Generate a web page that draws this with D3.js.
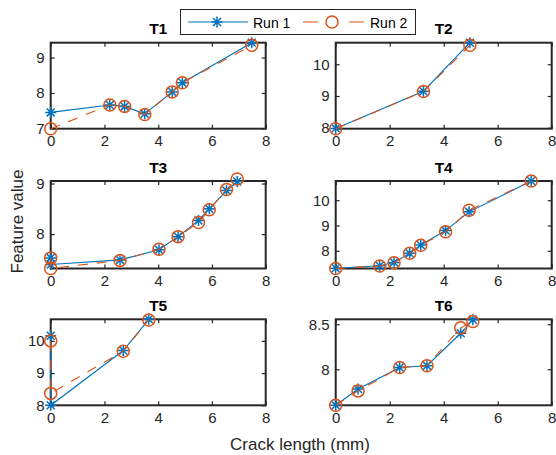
<!DOCTYPE html>
<html>
<head>
<meta charset="utf-8">
<title>Feature value vs crack length</title>
<script src="https://cdn.jsdelivr.net/npm/d3@7"></script>
<style>
    body { margin: 0; background: #fff; }
    svg { font-family: "Liberation Sans", Arial, Helvetica, sans-serif; }
    .tick text { fill: #262626; font-size: 15px; }
    .tick line { stroke: #262626; stroke-width: 1.2; }
</style>
</head>
<body>
<script>
    // panel titles and axis tick values
    var titles = ["T1", "T2", "T3", "T4", "T5", "T6"];
    var xTicks = [0, 2, 4, 6, 8];
    var yTicks = [[7, 8, 9], [8, 9, 10], [8, 9], [8, 9, 10], [8, 9, 10], [8, 8.5]];
    var yLimits = [[6.99, 9.42], [7.97, 10.68], [7.32, 9.05], [7.30, 10.76], [8.0, 10.67], [7.6, 8.555]];

    // crack length (mm) per panel, shared by both runs
    var t1Crack = [0, 2.2, 2.75, 3.5, 4.52, 4.9, 7.48];
    var t2Crack = [0, 3.25, 4.97];
    var t3Crack = [0, 0, 2.58, 4.03, 4.74, 5.5, 5.9, 6.54, 6.94];
    var t4Crack = [0, 1.63, 2.16, 2.74, 3.15, 4.07, 4.94, 7.24];
    var t5Crack = [0, 0, 2.7, 3.65];
    var t6Crack = [0, 0.83, 2.37, 3.38, 4.63, 5.08];

    // feature values, run 1
    var t1Run1 = [7.45, 7.66, 7.62, 7.41, 8.03, 8.29, 9.42];
    var t2Run1 = [7.98, 9.15, 10.68];
    var t3Run1 = [7.53, 7.40, 7.49, 7.69, 7.95, 8.27, 8.5, 8.86, 9.04];
    var t4Run1 = [7.31, 7.41, 7.54, 7.90, 8.23, 8.80, 9.54, 10.76];
    var t5Run1 = [10.16, 8.0, 9.70, 10.67];
    var t6Run1 = [7.6, 7.78, 8.02, 8.04, 8.40, 8.55];

    // feature values, run 2
    var t1Run2 = [6.99, 7.66, 7.62, 7.39, 8.03, 8.29, 9.35];
    var t2Run2 = [7.97, 9.14, 10.6];
    var t3Run2 = [7.53, 7.32, 7.48, 7.70, 7.95, 8.23, 8.48, 8.88, 9.09];
    var t4Run2 = [7.30, 7.40, 7.53, 7.90, 8.22, 8.75, 9.60, 10.76];
    var t5Run2 = [10.0, 8.37, 9.68, 10.65];
    var t6Run2 = [7.6, 7.76, 8.02, 8.04, 8.46, 8.53];

    var crack = [t1Crack, t2Crack, t3Crack, t4Crack, t5Crack, t6Crack];
    var run1 = [t1Run1, t2Run1, t3Run1, t4Run1, t5Run1, t6Run1];
    var run2 = [t1Run2, t2Run2, t3Run2, t4Run2, t5Run2, t6Run2];

    var blue = "#0072BD", orange = "#D95319";
    var W = 556, H = 455;

    // panel boxes: columns and rows in pixels
    var cols = [[50.7, 265.7], [335.7, 551.7]];
    var rows = [[42.7, 128.7], [181, 268.5], [319.3, 405.3]];

    var svg = d3.select("body").append("svg")
            .attr("width", W)
            .attr("height", H);

    function asterisk(g, x, y) {
        var r = 5.5, q = r * 0.72;
        var d = "M" + (x - r) + "," + y + "H" + (x + r) +
                "M" + x + "," + (y - r) + "V" + (y + r) +
                "M" + (x - q) + "," + (y - q) + "L" + (x + q) + "," + (y + q) +
                "M" + (x - q) + "," + (y + q) + "L" + (x + q) + "," + (y - q);
        g.append("path").attr("d", d)
                .attr("stroke", blue).attr("stroke-width", 1.5).attr("fill", "none");
    }

    function circle(g, x, y) {
        g.append("circle").attr("cx", x).attr("cy", y).attr("r", 6)
                .attr("stroke", orange).attr("stroke-width", 1.5).attr("fill", "none");
    }

    titles.forEach(function(t, i) {
        var c = cols[i % 2], r = rows[Math.floor(i / 2)];
        var x = d3.scaleLinear().domain([0, 8]).range(c);
        var y = d3.scaleLinear().domain(yLimits[i]).range([r[1], r[0]]);
        var g = svg.append("g");

        // ticks on all four sides, pointing inward (matlab box style)
        g.append("g").attr("transform", "translate(0," + r[1] + ")")
                .call(d3.axisBottom(x).tickValues(xTicks).tickSize(-4).tickSizeOuter(0).tickPadding(7));
        g.append("g").attr("transform", "translate(0," + r[0] + ")")
                .call(d3.axisTop(x).tickValues(xTicks).tickSize(-4).tickSizeOuter(0).tickFormat(""));
        g.append("g").attr("transform", "translate(" + c[0] + ",0)")
                .call(d3.axisLeft(y).tickValues(yTicks[i]).tickSize(-4).tickSizeOuter(0).tickPadding(6)
                        .tickFormat(function(d) { return String(d); }));
        g.append("g").attr("transform", "translate(" + c[1] + ",0)")
                .call(d3.axisRight(y).tickValues(yTicks[i]).tickSize(-4).tickSizeOuter(0).tickFormat(""));
        g.selectAll(".domain").remove();
        g.selectAll(".tick text").attr("font-family", null).attr("font-size", null);

        g.append("rect")
                .attr("x", c[0]).attr("y", r[0])
                .attr("width", c[1] - c[0]).attr("height", r[1] - r[0])
                .attr("fill", "none").attr("stroke", "#262626").attr("stroke-width", 2);

        g.append("text")
                .attr("x", (c[0] + c[1]) / 2).attr("y", r[0] - 8.5)
                .attr("text-anchor", "middle")
                .attr("font-size", 15.5).attr("font-weight", "bold")
                .attr("fill", "#000")
                .text(t);

        var pts1 = crack[i].map(function(d, k) { return [x(d), y(run1[i][k])]; });
        var pts2 = crack[i].map(function(d, k) { return [x(d), y(run2[i][k])]; });
        var line = d3.line();

        g.append("path").attr("d", line(pts1))
                .attr("fill", "none").attr("stroke", blue).attr("stroke-width", 1.1);
        pts1.forEach(function(p) { asterisk(g, p[0], p[1]); });

        g.append("path").attr("d", line(pts2))
                .attr("fill", "none").attr("stroke", orange).attr("stroke-width", 1.1)
                .attr("stroke-dasharray", "10,9");
        pts2.forEach(function(p) { circle(g, p[0], p[1]); });
    });

    // shared axis labels
    svg.append("text")
            .attr("x", 300).attr("y", 450)
            .attr("text-anchor", "middle")
            .attr("font-size", 17).attr("fill", "#262626")
            .text("Crack length (mm)");
    svg.append("text")
            .attr("transform", "translate(23,221.5) rotate(-90)")
            .attr("text-anchor", "middle")
            .attr("font-size", 17).attr("fill", "#262626")
            .text("Feature value");

    // legend
    var lg = svg.append("g");
    lg.append("rect").attr("x", 180.5).attr("y", 9.5).attr("width", 235).attr("height", 25)
            .attr("fill", "#fff").attr("stroke", "#262626").attr("stroke-width", 1);
    lg.append("line").attr("x1", 188).attr("x2", 248).attr("y1", 22).attr("y2", 22)
            .attr("stroke", blue).attr("stroke-width", 1.1);
    asterisk(lg, 217, 22);
    lg.append("text").attr("x", 253).attr("y", 27.5).attr("font-size", 14).attr("fill", "#000").text("Run 1");
    lg.append("line").attr("x1", 303).attr("x2", 364).attr("y1", 22).attr("y2", 22)
            .attr("stroke", orange).attr("stroke-width", 1.1).attr("stroke-dasharray", "15,31");
    circle(lg, 332, 22);
    lg.append("text").attr("x", 370).attr("y", 27.5).attr("font-size", 14).attr("fill", "#000").text("Run 2");
</script>
</body>
</html>
